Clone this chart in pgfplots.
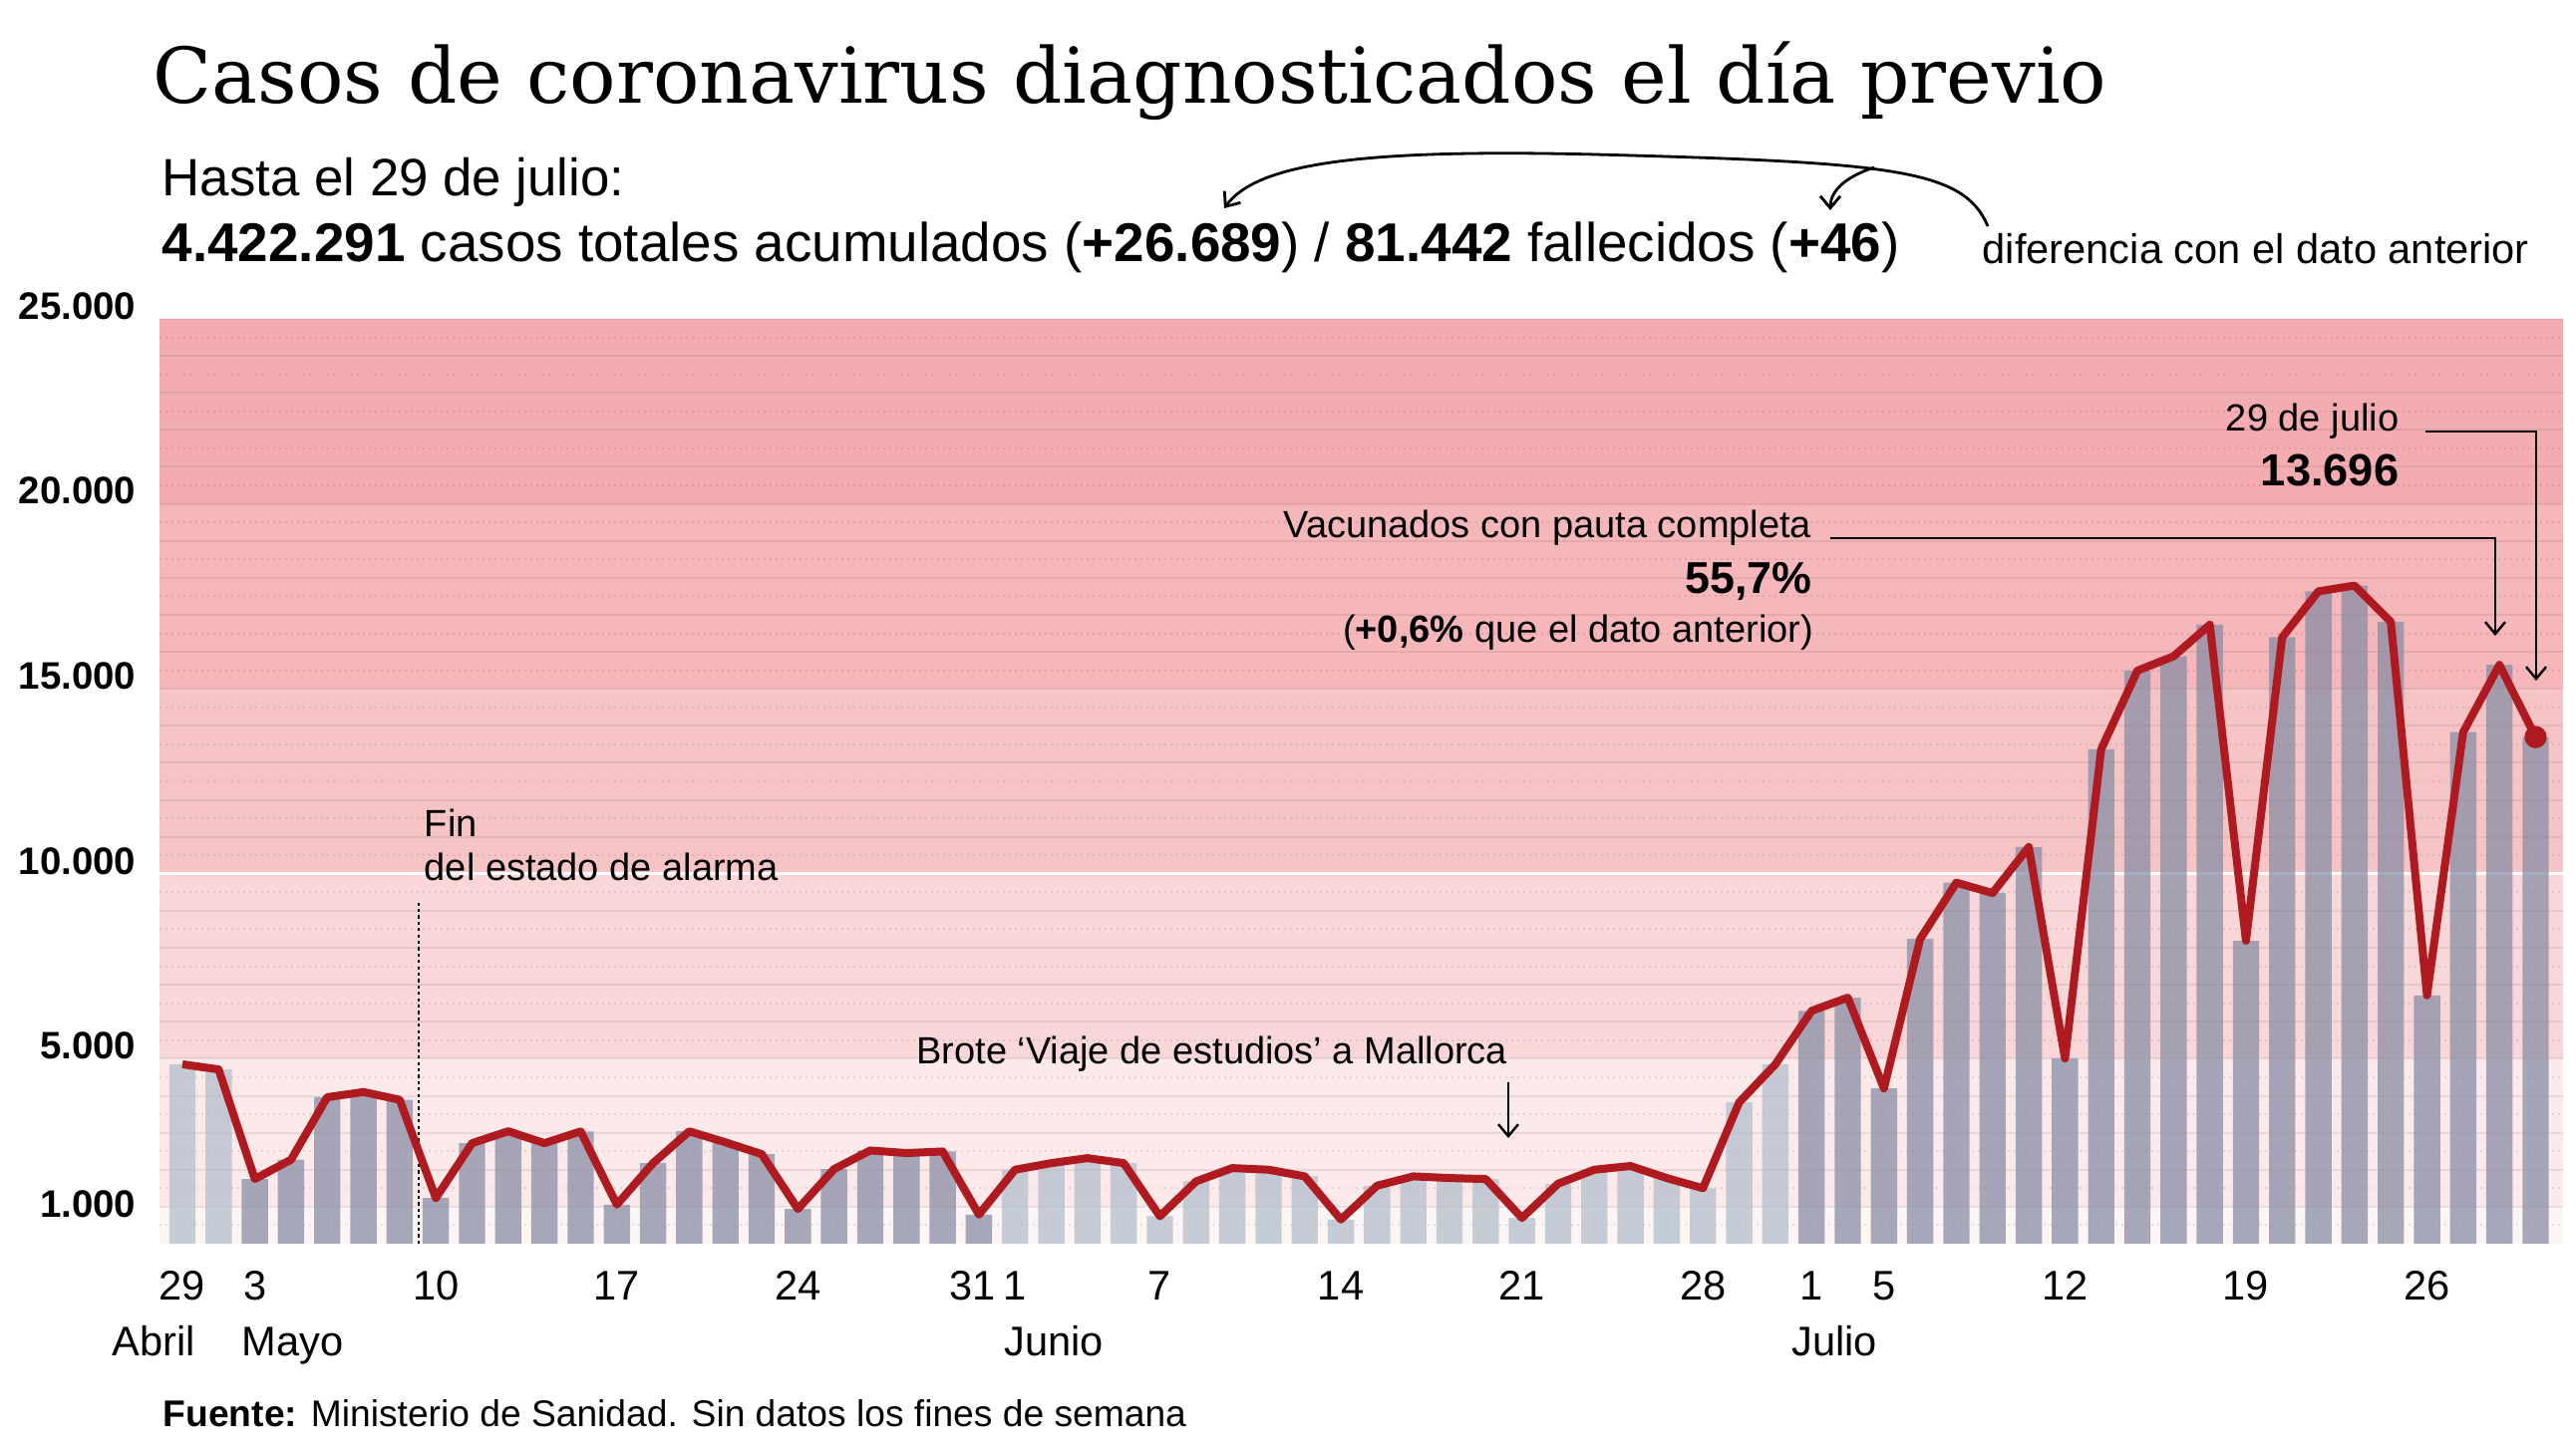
\documentclass[border=0pt]{standalone}
\usepackage{fontspec}
\setmainfont{Liberation Sans}
\newfontfamily\titlefont{DejaVu Serif}
\usepackage{pgfplots}
\usepackage{pgfplotstable}
\pgfplotsset{compat=1.18}
\usetikzlibrary{arrows.meta}

\definecolor{bzero}{HTML}{FDF4F4}
\definecolor{bone}{HTML}{FCE9E9}
\definecolor{btwo}{HTML}{F9D7D8}
\definecolor{bthree}{HTML}{F7C4C6}
\definecolor{bfour}{HTML}{F5B7BA}
\definecolor{bfive}{HTML}{F3ADB0}
\definecolor{redline}{HTML}{AE1A1F}
\definecolor{bardark}{RGB}{133,140,164}
\definecolor{barlight}{RGB}{176,189,203}

\pgfplotstableread{
i v
0 4850
1 4710
2 1750
3 2270
4 3960
5 4100
6 3890
7 1235
8 2717
9 3040
10 2717
11 3035
12 1056
13 2178
14 3038
15 2740
16 2422
17 938
18 2017
19 2520
20 2450
21 2493
22 786
23 2000
24 2178
25 2313
26 2178
27 741
28 1685
29 2044
30 2000
31 1820
32 652
33 1568
34 1820
35 1775
36 1748
37 696
38 1622
39 2000
40 2100
41 1775
42 1500
43 3820
44 4849
45 6294
46 6652
47 4197
48 8237
49 9760
50 9480
51 10723
52 5005
53 13364
54 15491
55 15879
56 16733
57 8189
58 16394
59 17636
60 17790
61 16811
62 6714
63 13830
64 15647
65 13696
}\casos

\begin{document}
\begin{tikzpicture}
\useasboundingbox (0,0) rectangle (646pt,363.75pt);
\begin{axis}[
  at={(40pt,51.75pt)}, anchor=south west,
  scale only axis, width=602.75pt, height=232pt,
  xmin=-0.633, xmax=65.757, ymin=0, ymax=25000,
  axis line style={draw=none}, tick style={draw=none},
  clip=false, scaled y ticks=false, scaled x ticks=false,
  xtick={0,2,7,12,17,22,23,27,32,37,42,45,47,52,57,62},
  xticklabels={29,3,10,17,24,31\kern3pt,1,7,14,21,28,1,5,12,19,26},
  xticklabel style={font=\fontsize{10.4}{12}\selectfont, anchor=base, inner sep=0pt, yshift=-14.25pt},
  ytick={5000,10000,15000,20000,25000},
  yticklabels={5.000,10.000,15.000,20.000,25.000},
  extra y ticks={1000}, extra y tick labels={1.000},
  yticklabel style={font=\bfseries\fontsize{9.6}{11}\selectfont, anchor=east, inner sep=0pt, xshift=-5.75pt, yshift=3.25pt},
  extra y tick style={yticklabel style={yshift=-2.5pt}},
]
% background bands
\fill[bzero] (axis cs:-0.633,0) rectangle (axis cs:65.757,1000);
\fill[bone] (axis cs:-0.633,1000) rectangle (axis cs:65.757,5000);
\fill[btwo] (axis cs:-0.633,5000) rectangle (axis cs:65.757,10000);
\fill[bthree] (axis cs:-0.633,10000) rectangle (axis cs:65.757,15000);
\fill[bfour] (axis cs:-0.633,15000) rectangle (axis cs:65.757,20000);
\fill[bfive] (axis cs:-0.633,20000) rectangle (axis cs:65.757,25000);
\pgfplotsinvokeforeach{1,...,25}{
  \draw[black, opacity=0.07, line width=0.5pt] (axis cs:-0.633,{#1*1000}) -- (axis cs:65.757,{#1*1000});
  \draw[black, opacity=0.09, line width=0.5pt, dash pattern=on 0.6pt off 0.9pt] (axis cs:-0.633,{#1*1000-500}) -- (axis cs:65.757,{#1*1000-500});
}
\draw[white, line width=0.8pt] (axis cs:-0.633,10000) -- (axis cs:65.757,10000);
% bars
\addplot[ybar, bar width=6.6pt, bar shift=0pt, fill=barlight, fill opacity=0.72, draw=none, restrict x to domain=0:1] table[x=i,y=v]{\casos};
\addplot[ybar, bar width=6.6pt, bar shift=0pt, fill=bardark, fill opacity=0.72, draw=none, restrict x to domain=2:22] table[x=i,y=v]{\casos};
\addplot[ybar, bar width=6.6pt, bar shift=0pt, fill=barlight, fill opacity=0.72, draw=none, restrict x to domain=23:44] table[x=i,y=v]{\casos};
\addplot[ybar, bar width=6.6pt, bar shift=0pt, fill=bardark, fill opacity=0.72, draw=none, restrict x to domain=45:65] table[x=i,y=v]{\casos};
% annotation line
\draw[black, line width=0.6pt, dash pattern=on 0.8pt off 0.8pt] (axis cs:6.525,0) -- (axis cs:6.525,9290);
% line
\addplot[redline, line width=2pt, line join=round, mark=none] table[x=i,y=v]{\casos};
\addplot[only marks, mark=*, mark size=2.6pt, redline] coordinates {(65,13696)};
\end{axis}

\begin{scope}[x=0.25pt, y=-0.25pt, shift={(0pt,363.75pt)}]
\node[anchor=base west, inner sep=0pt, font=\titlefont\fontsize{19.3}{21}\selectfont] at (153,104) {Casos de coronavirus diagnosticados el día previo};
\node[anchor=base west, inner sep=0pt, font=\fontsize{13.2}{15}\selectfont] at (162,197) {Hasta el 29 de julio:};
\node[anchor=base west, inner sep=0pt, font=\fontsize{13.7}{15}\selectfont] at (162,263) {\textbf{4.422.291} casos totales acumulados (\textbf{+26.689}) / \textbf{81.442} fallecidos (\textbf{+46})};
\node[anchor=base west, inner sep=0pt, font=\fontsize{10.4}{12}\selectfont] at (1988,265) {diferencia con el dato anterior};
\draw[line width=0.7pt, -{Straight Barb[length=3pt,width=5pt]}] (1994,227) .. controls (1970,170) and (1900,163) .. (1600,155) .. controls (1360,149) and (1260,165) .. (1228,209);
\draw[line width=0.7pt, -{Straight Barb[length=3pt,width=5pt]}] (1880,168) .. controls (1850,178) and (1836,192) .. (1836,211);

\node[anchor=base, inner sep=0pt, font=\fontsize{10.4}{12}\selectfont] at (154,1361) {Abril};
\node[anchor=base, inner sep=0pt, font=\fontsize{10.4}{12}\selectfont] at (293.5,1361) {Mayo};
\node[anchor=base, inner sep=0pt, font=\fontsize{10.4}{12}\selectfont] at (1057,1361) {Junio};
\node[anchor=base, inner sep=0pt, font=\fontsize{10.4}{12}\selectfont] at (1840,1361) {Julio};

\node[anchor=base west, inner sep=0pt, font=\fontsize{9.3}{11}\selectfont] at (163,1432) {\textbf{Fuente:} Ministerio de Sanidad. Sin datos los fines de semana};

\node[anchor=base west, inner sep=0pt, font=\fontsize{9.5}{11}\selectfont] at (425,840) {Fin};
\node[anchor=base west, inner sep=0pt, font=\fontsize{9.5}{11}\selectfont] at (425,884) {del estado de alarma};

\node[anchor=base east, inner sep=0pt, font=\fontsize{9.5}{11}\selectfont] at (1513,1068) {Brote ‘Viaje de estudios’ a Mallorca};
\draw[line width=0.6pt, -{Straight Barb[length=3pt,width=5pt]}] (1513,1086) -- (1513,1142);

\node[anchor=base east, inner sep=0pt, font=\fontsize{9.5}{11}\selectfont] at (2407,433) {29 de julio};
\node[anchor=base east, inner sep=0pt, font=\bfseries\fontsize{11.3}{13}\selectfont] at (2407,488) {13.696};
\draw[line width=0.6pt, -{Straight Barb[length=3pt,width=5pt]}] (2433,433) -- (2544,433) -- (2544,683);

\node[anchor=base east, inner sep=0pt, font=\fontsize{9.5}{11}\selectfont] at (1818,540) {Vacunados con pauta completa};
\node[anchor=base east, inner sep=0pt, font=\bfseries\fontsize{11.2}{13}\selectfont] at (1818,596) {55,7\%};
\node[anchor=base east, inner sep=0pt, font=\fontsize{9.5}{11}\selectfont] at (1820,645) {(\textbf{+0,6\%} que el dato anterior)};
\draw[line width=0.6pt, -{Straight Barb[length=3pt,width=5pt]}] (1836,540) -- (2503,540) -- (2503,638);
\end{scope}
\end{tikzpicture}
\end{document}
